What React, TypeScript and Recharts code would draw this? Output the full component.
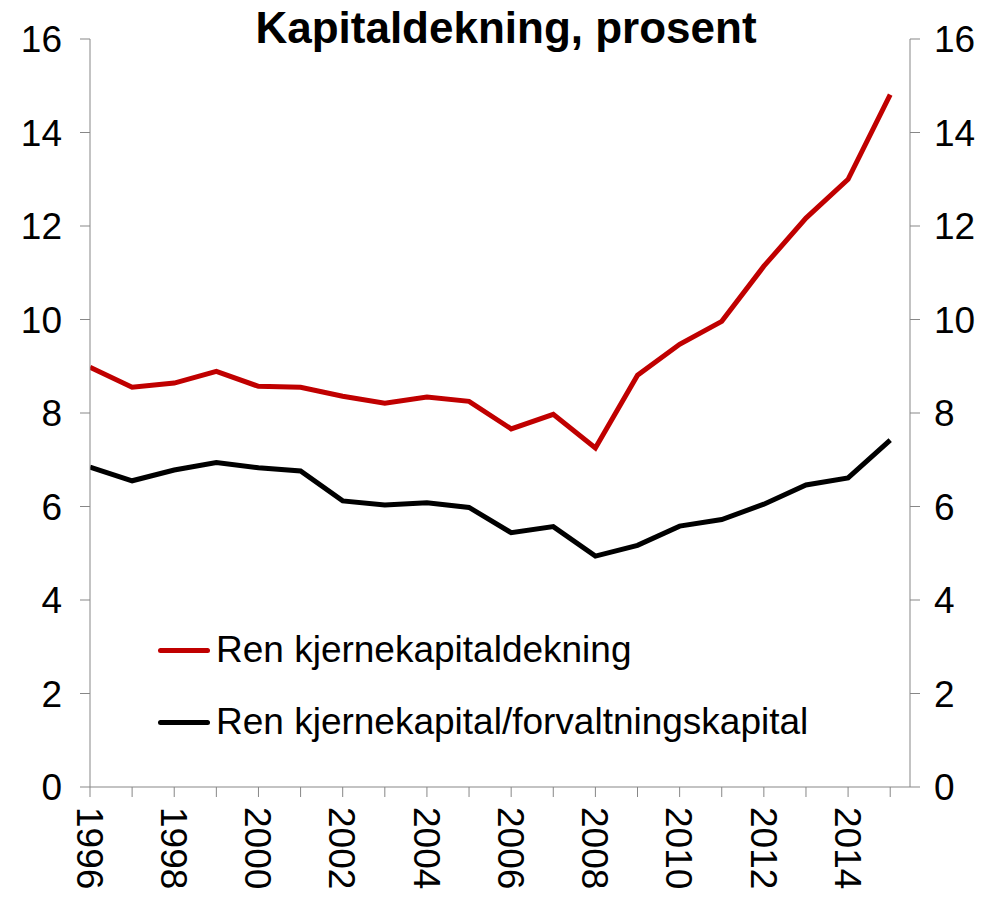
import { LineChart, Line, XAxis, YAxis } from 'recharts';

const years = [
  1996, 1997, 1998, 1999, 2000, 2001, 2002, 2003, 2004, 2005,
  2006, 2007, 2008, 2009, 2010, 2011, 2012, 2013, 2014, 2015,
];
const renKjernekapitaldekning = [
  8.98, 8.55, 8.64, 8.89, 8.57, 8.55, 8.36, 8.21, 8.34, 8.25,
  7.66, 7.97, 7.25, 8.81, 9.47, 9.96, 11.14, 12.17, 13.0, 14.81,
];
const renKjernekapitalForvaltning = [
  6.84, 6.55, 6.78, 6.94, 6.83, 6.76, 6.12, 6.03, 6.08, 5.98,
  5.44, 5.57, 4.94, 5.17, 5.58, 5.72, 6.05, 6.46, 6.61, 7.42,
];
const yTicks = [0, 2, 4, 6, 8, 10, 12, 14, 16];
const seriesNames = ['Ren kjernekapitaldekning', 'Ren kjernekapital/forvaltningskapital'];
const seriesColors = ['#C00000', '#000000'];

const data = years.map((year, i) => ({
  year,
  a: renKjernekapitaldekning[i],
  b: renKjernekapitalForvaltning[i],
}));

const font = 'Liberation Sans, Arial, sans-serif';
const axisColor = '#878787';

function XTick(props: any) {
  const { x, y, payload } = props;
  if (payload.value % 2 !== 0) return null;
  return (
    <text
      x={0}
      y={0}
      transform={`translate(${x},${y + 8}) rotate(90)`}
      dy="0.36em"
      textAnchor="start"
      fontSize={37}
      fontFamily={font}
      fill="#000"
    >
      {payload.value}
    </text>
  );
}

export default function App() {
  return (
    <div style={{ position: 'absolute', left: 0, top: 0, width: 1005, height: 899, background: '#fff' }}>
      <div
        style={{
          position: 'absolute',
          left: 0,
          top: 3,
          width: 1012,
          textAlign: 'center',
          fontFamily: font,
          fontWeight: 'bold',
          fontSize: 44,
          zIndex: 2,
        }}
      >
        Kapitaldekning, prosent
      </div>
      <div
        style={{
          position: 'absolute',
          left: 158,
          top: 614,
          fontFamily: font,
          fontSize: 37,
          color: '#000',
          zIndex: 2,
        }}
      >
        {seriesNames.map((name, i) => (
          <div key={name} style={{ display: 'flex', alignItems: 'center', height: 72 }}>
            <div
              style={{
                width: 52,
                height: 5,
                borderRadius: 3,
                background: seriesColors[i],
                marginRight: 6,
              }}
            />
            <span>{name}</span>
          </div>
        ))}
      </div>
      <LineChart
        width={1005}
        height={899}
        data={data}
        margin={{ top: 39, right: 0, bottom: 0, left: 0 }}
      >
        <XAxis
          dataKey="year"
          type="number"
          domain={[1996, 2015.47]}
          ticks={years}
          interval={0}
          height={112}
          tickSize={10}
          stroke={axisColor}
          tickLine={{ stroke: axisColor }}
          tick={<XTick />}
          allowDataOverflow
        />
        <YAxis
          yAxisId="left"
          domain={[0, 16]}
          ticks={yTicks}
          width={90}
          tickSize={10}
          tickMargin={18}
          stroke={axisColor}
          tick={{ fontSize: 37, fontFamily: font, fill: '#000' }}
        />
        <YAxis
          yAxisId="right"
          orientation="right"
          domain={[0, 16]}
          ticks={yTicks}
          width={95}
          tickSize={10}
          tickMargin={14}
          stroke={axisColor}
          tick={{ fontSize: 37, fontFamily: font, fill: '#000' }}
        />
        <Line
          yAxisId="left"
          dataKey="a"
          name={seriesNames[0]}
          stroke={seriesColors[0]}
          strokeWidth={5}
          dot={false}
          isAnimationActive={false}
        />
        <Line
          yAxisId="left"
          dataKey="b"
          name={seriesNames[1]}
          stroke={seriesColors[1]}
          strokeWidth={5}
          dot={false}
          isAnimationActive={false}
        />
        <Line
          yAxisId="right"
          dataKey="a"
          stroke="none"
          dot={false}
          legendType="none"
          isAnimationActive={false}
        />
      </LineChart>
    </div>
  );
}
